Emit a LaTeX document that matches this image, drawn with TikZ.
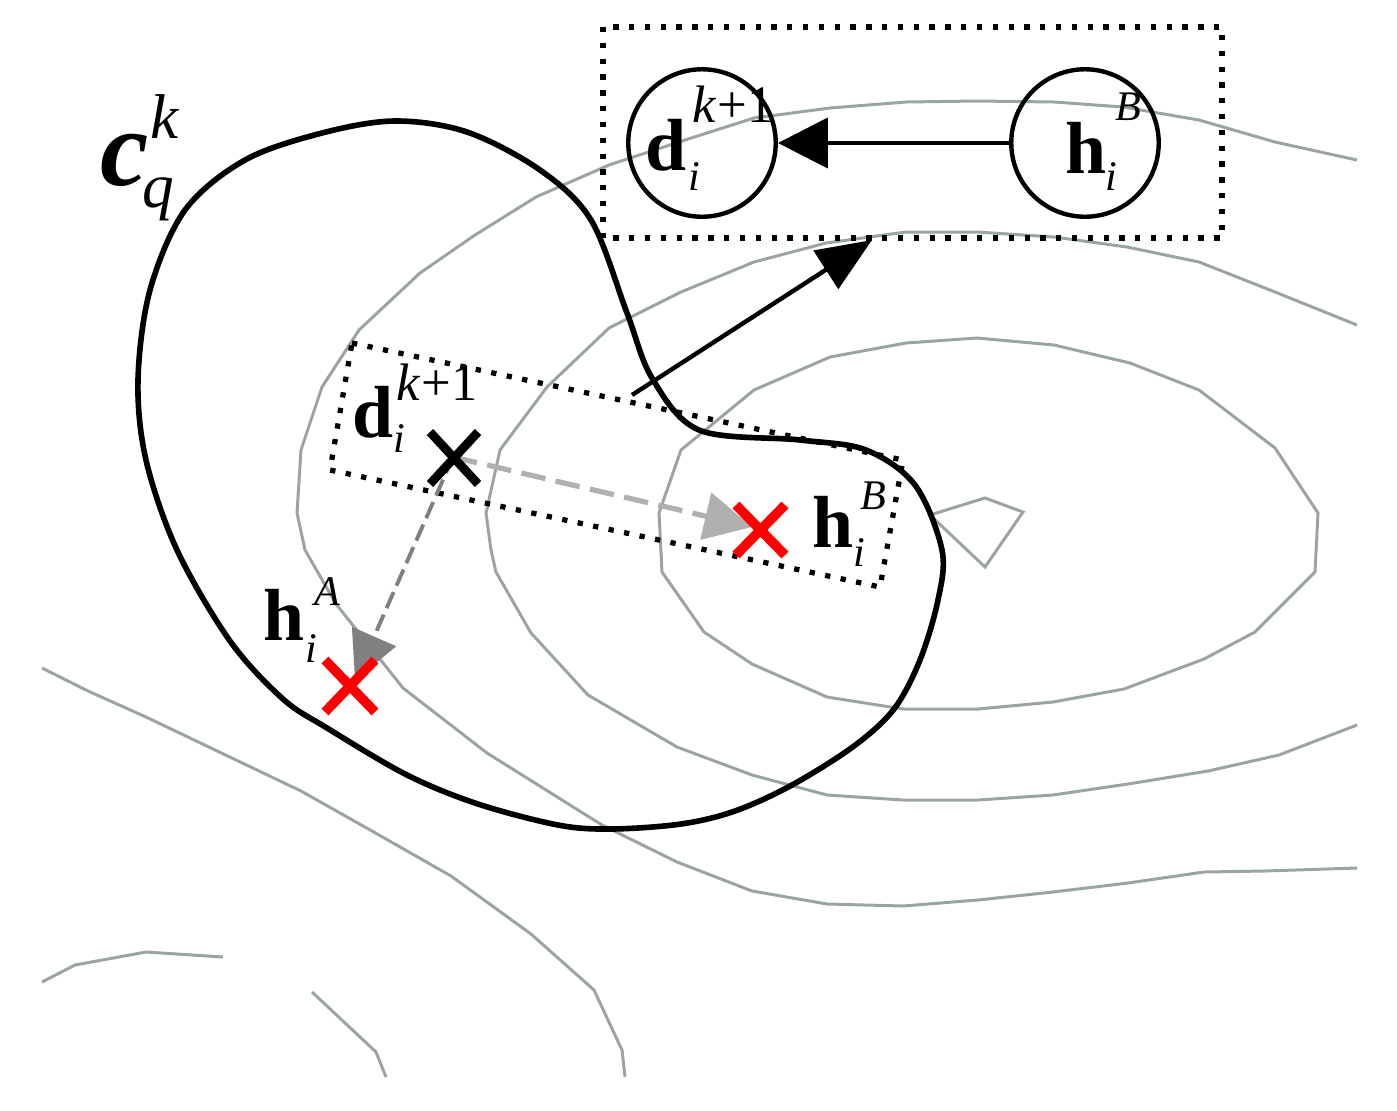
\documentclass[tikz,border=0pt]{standalone}
\usepackage{fontspec}
\setmainfont{Liberation Serif}
\usetikzlibrary{arrows.meta}
\definecolor{cont}{HTML}{9AA5A3}
\definecolor{lgray}{HTML}{B0B0B0}
\definecolor{dgray}{HTML}{808080}
\tikzset{
  contour/.style={draw=cont,line width=1.7pt},
  blob/.style={draw=black,line width=3.2pt},
  dotbox/.style={draw=black,line width=3pt,dash pattern=on 3pt off 6pt},
  circ/.style={circle,draw=black,line width=2.5pt,minimum size=2.95cm,inner sep=0pt},
  big/.style={font=\fontsize{42}{42}\selectfont\bfseries,inner sep=0pt,anchor=base west},
  scr/.style={font=\fontsize{24}{24}\selectfont\itshape,inner sep=0pt,anchor=base west},
  crossred/.style={draw=red,line width=5.5pt},
  crossblk/.style={draw=black,line width=5pt}
}
\begin{document}
\begin{tikzpicture}[x=0.02cm,y=-0.02cm]
\useasboundingbox (0,0) rectangle (1397,1110);
% contours
\draw[contour] (1357,160) -- (1275,142) -- (1199,120) -- (1123,107) -- (1054,102) -- (977,101) -- (906,102) -- (830,108) -- (754,118) -- (685,140) -- (609,165) -- (536,197) -- (475,235) -- (420,273) -- (359,330) -- (322,387) -- (301,450) -- (297,513) -- (305,550) -- (336,604) -- (403,688) -- (487,753) -- (602,825) -- (677,862) -- (752,891) -- (827,904) -- (903,906) -- (978,900) -- (1053,892) -- (1128,883) -- (1204,872) -- (1265,871) -- (1357,868);
\draw[contour] (1357,325) -- (1275,292) -- (1199,262) -- (1127,247) -- (1054,237) -- (977,232) -- (906,232) -- (826,243) -- (754,262) -- (681,292) -- (609,328) -- (547,387) -- (500,450) -- (486,513) -- (491,550) -- (496,572) -- (531,633) -- (588,695) -- (677,747) -- (752,775) -- (827,795) -- (903,800) -- (978,800) -- (1053,795) -- (1128,784) -- (1208,771) -- (1279,755) -- (1357,725);
\draw[contour] (977,338) -- (1054,345) -- (1130,363) -- (1199,390) -- (1275,448) -- (1318,513) -- (1315,572) -- (1255,632) -- (1204,659) -- (1124,689) -- (1053,702) -- (978,709) -- (903,709) -- (827,697) -- (752,664) -- (704,632) -- (662,572) -- (659,513) -- (681,450) -- (754,390) -- (830,357) -- (906,343) -- cycle;
\draw[contour] (930,515) -- (985,498) -- (1023,512) -- (985,567) -- cycle;
\draw[contour] (42,668) -- (88,691) -- (146,717) -- (301,791) -- (372,831) -- (451,876) -- (531,934) -- (594,990) -- (622,1050) -- (625,1077);
\draw[contour] (42,982) -- (75,965) -- (146,952) -- (223,957);
\draw[contour] (312,992) -- (376,1052) -- (386,1077);
% boxes
\draw[dotbox] (603,27) rectangle (1222,238);
\draw[dotbox] (352,343) -- (903,460) -- (880,587) -- (330,470) -- cycle;
% blob curve
\draw[blob] plot[smooth cycle,tension=0.55] coordinates {(322,133) (395,121) (467,132) (540,170) (591,220) (627,313) (652,378) (699,430) (800,440) (866,450) (915,485) (942,550) (938,600) (920,660) (894,709) (854,746) (792,785) (735,811) (681,824) (611,829) (558,825) (478,804) (407,775) (327,728) (283,699) (230,641) (177,550) (146,460) (138,380) (150,290) (185,210) (245,160)};
% circles
\node[circ] (dtop) at (702,143) {};
\node[circ] (htop) at (1085,143) {};
\draw[line width=2.5pt,-{Triangle[length=1cm,width=1cm]}] (htop) -- (dtop);
\coordinate (s1) at (632,395);
\coordinate (e1) at (872,240);
\draw[line width=2.5pt,-{Triangle[length=1.1cm,width=0.9cm]}] (s1) -- (e1);
% crosses
\coordinate (dpt) at (453,457);
\coordinate (hb) at (760,530);
\coordinate (ha) at (350,685);
\draw[lgray,line width=3pt,dash pattern=on 14pt off 6pt,-{Triangle[length=0.95cm,width=0.95cm]}] (dpt) -- (752,527);
\draw[dgray,line width=2.2pt,dash pattern=on 10pt off 4pt,-{Triangle[length=0.95cm,width=0.95cm]}] (dpt) -- (355,680);
\draw[crossblk] (430,432) -- (478,484) (478,432) -- (430,484);
\draw[crossred] (736,505) -- (785,555) (785,505) -- (736,555);
\draw[crossred] (325,660) -- (375,712) (375,660) -- (325,712);
% labels
\node[big] (l1) at (645,170) {d};
\node[scr] at (692,122) {\fontsize{30}{30}\selectfont k\kern1pt\upshape+1};
\node[scr] at (688,190) {i};
\node[big] (l2) at (1065,173) {h};
\node[scr] at (1115,120) {B};
\node[scr] at (1105,190) {i};
\node[big] (l3) at (352,437) {d};
\node[scr] at (396,400) {\fontsize{30}{30}\selectfont k\kern1pt\upshape+1};
\node[scr] at (393,452) {i};
\node[big] (l4) at (812,547) {h};
\node[scr] at (860,509) {B};
\node[scr] at (853,566) {i};
\node[big] (l5) at (263,640) {h};
\node[scr] at (314,605) {A};
\node[scr] at (305,662) {i};
\node[big,font=\fontsize{62}{62}\selectfont\bfseries\itshape] (l6) at (100,185) {c};
\node[scr,font=\fontsize{36}{36}\selectfont\itshape] at (150,138) {k};
\node[scr,font=\fontsize{36}{36}\selectfont\itshape] at (142,207) {q};
\end{tikzpicture}
\end{document}
